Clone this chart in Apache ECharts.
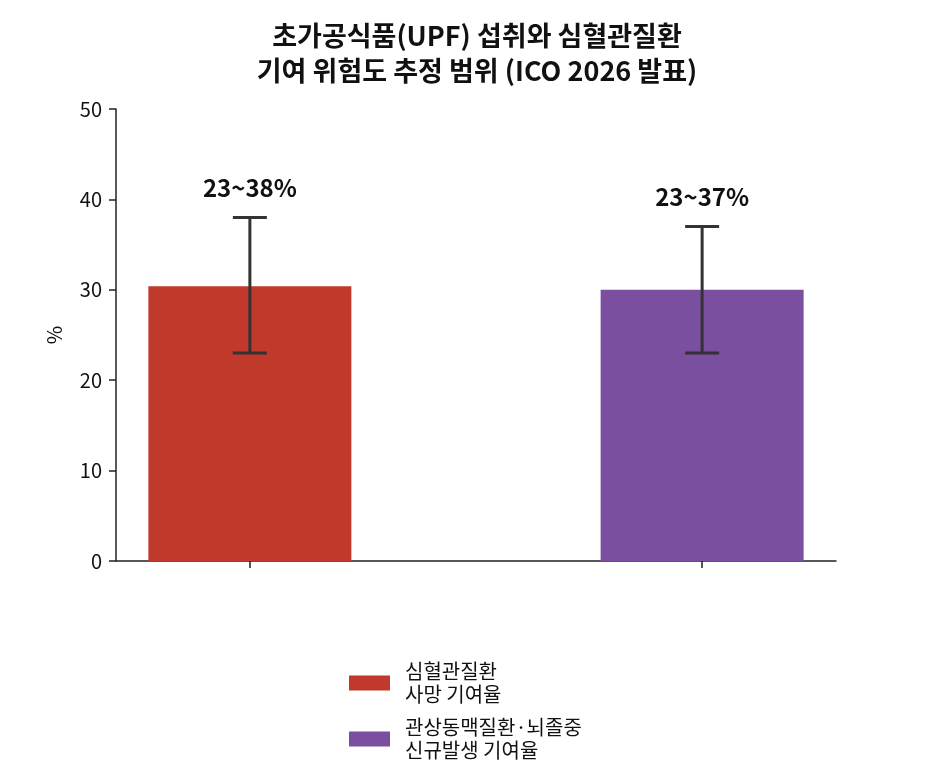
<!DOCTYPE html>
<html>
<head>
<meta charset="utf-8">
<script src="https://cdn.jsdelivr.net/npm/echarts@6/dist/echarts.min.js"></script>
<style>
  html, body { margin: 0; padding: 0; background: #fff; }
  #chart { width: 930px; height: 780px; }
</style>
</head>
<body>
<div id="chart"></div>
<script>
// data
var seriesNames = ['심혈관질환\n사망 기여율', '관상동맥질환·뇌졸중\n신규발생 기여율'];
var midValues = [30.4, 30.0];
var lowValues = [23, 23];
var highValues = [38, 37];
var rangeLabels = ['23~38%', '23~37%'];
var colors = ['#c0392b', '#7b4fa0'];
var yTicks = { min: 0, max: 50, interval: 10 };

var font = 'Noto Sans CJK KR';

var series = seriesNames.map(function (name, i) {
  return {
    name: name,
    type: 'bar',
    barWidth: 203,
    barGap: '-100%',
    itemStyle: { color: colors[i] },
    data: [[i, midValues[i]]],
    z: 2
  };
});

// error bars + range labels
series.push({
  type: 'custom',
  z: 5,
  silent: true,
  data: midValues.map(function (v, i) { return [i, lowValues[i], highValues[i], rangeLabels[i]]; }),
  renderItem: function (params, api) {
    var lo = api.coord([api.value(0), api.value(1)]);
    var hi = api.coord([api.value(0), api.value(2)]);
    var cap = 17;
    var st = { stroke: '#333', lineWidth: 3 };
    return {
      type: 'group',
      children: [
        { type: 'line', shape: { x1: hi[0], y1: hi[1], x2: lo[0], y2: lo[1] }, style: st },
        { type: 'line', shape: { x1: hi[0] - cap, y1: hi[1], x2: hi[0] + cap, y2: hi[1] }, style: st },
        { type: 'line', shape: { x1: lo[0] - cap, y1: lo[1], x2: lo[0] + cap, y2: lo[1] }, style: st },
        { type: 'text', style: {
            x: hi[0], y: hi[1] - 30, text: api.value(3),
            align: 'center', verticalAlign: 'middle',
            font: 'bold 24px "' + font + '"', fill: '#111'
        } }
      ]
    };
  }
});

var chart = echarts.init(document.getElementById('chart'));
chart.setOption({
  animation: false,
  backgroundColor: '#fff',
  textStyle: { fontFamily: font },
  title: {
    text: '초가공식품(UPF) 섭취와 심혈관질환\n기여 위험도 추정 범위 (ICO 2026 발표)',
    left: 477,
    textAlign: 'center',
    top: 18,
    padding: 0,
    textStyle: { fontSize: 27, fontWeight: 'bold', color: '#111', lineHeight: 35, fontFamily: font }
  },
  legend: {
    orient: 'vertical',
    left: 344,
    top: 655,
    icon: 'rect',
    itemWidth: 41,
    itemHeight: 15,
    itemGap: 10,
    data: seriesNames,
    textStyle: { fontSize: 20, lineHeight: 23, color: '#111', fontFamily: font, padding: [0, 0, 0, 10] }
  },
  grid: { left: 116, right: 94, top: 109, bottom: 219 },
  xAxis: {
    type: 'value',
    min: -0.296,
    max: 1.296,
    axisLine: { show: true, lineStyle: { color: '#222', width: 1.5 } },
    axisTick: { show: true, customValues: [0, 1], length: 7, lineStyle: { color: '#222', width: 1.5 } },
    axisLabel: { show: false },
    splitLine: { show: false }
  },
  yAxis: {
    type: 'value',
    min: yTicks.min,
    max: yTicks.max,
    interval: yTicks.interval,
    name: '%',
    nameLocation: 'middle',
    nameRotate: 90,
    nameGap: 52,
    nameTextStyle: { fontSize: 20, color: '#111', fontFamily: font },
    axisLine: { show: true, onZero: false, lineStyle: { color: '#222', width: 1.5 } },
    axisTick: { show: true, length: 7, lineStyle: { color: '#222', width: 1.5 } },
    axisLabel: { fontSize: 20, color: '#111', margin: 14, fontFamily: font },
    splitLine: { show: false }
  },
  series: series
});
</script>
</body>
</html>
